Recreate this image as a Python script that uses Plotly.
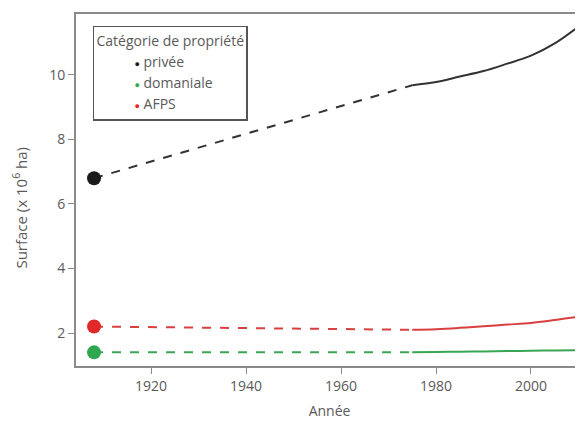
import plotly.graph_objects as go

categories = ["privée", "domaniale", "AFPS"]
colors = {"privée": "#1a1a1a", "domaniale": "#2fa84f", "AFPS": "#e02828"}
line_colors = {"privée": "#333333", "domaniale": "#3aa655", "AFPS": "#d84040"}

# initial point (1908)
start_year = [1908]
start_vals = {"privée": [6.8], "domaniale": [1.4], "AFPS": [2.2]}

# dashed interpolation period
dash_years = [1908, 1975]
dash_vals = {"privée": [6.8, 9.68], "domaniale": [1.4, 1.4], "AFPS": [2.2, 2.1]}

# measured period (solid)
solid_years = [1975, 1980, 1985, 1990, 1995, 2000, 2005, 2010]
solid_vals = {
    "privée": [9.68, 9.78, 9.95, 10.12, 10.35, 10.6, 10.98, 11.5],
    "domaniale": [1.4, 1.41, 1.42, 1.43, 1.44, 1.45, 1.46, 1.47],
    "AFPS": [2.1, 2.12, 2.16, 2.21, 2.26, 2.31, 2.4, 2.5],
}

x_ticks = [1920, 1940, 1960, 1980, 2000]
y_ticks = [2, 4, 6, 8, 10]

fig = go.Figure()
for c in categories:
    fig.add_trace(go.Scatter(x=dash_years, y=dash_vals[c], mode="lines",
                             line=dict(color=line_colors[c], width=2, dash="dash"),
                             showlegend=False, hoverinfo="skip"))
    fig.add_trace(go.Scatter(x=solid_years, y=solid_vals[c], mode="lines",
                             line=dict(color=line_colors[c], width=2),
                             showlegend=False, hoverinfo="skip", line_shape="spline"))
    fig.add_trace(go.Scatter(x=start_year, y=start_vals[c], mode="markers",
                             marker=dict(color=colors[c], size=14),
                             showlegend=False))
    legend_name = (f'<span style="font-size:9px;color:{colors[c]}">●</span> {c}')
    fig.add_trace(go.Scatter(x=[None], y=[None], mode="markers", name=legend_name,
                             marker=dict(color="rgba(0,0,0,0)", size=1)))

axis_color = "#8a8a8a"
text_color = "#5a5a5a"
fig.update_layout(
    width=575, height=422,
    margin=dict(l=68, r=0, t=6, b=64, autoexpand=False),
    plot_bgcolor="white", paper_bgcolor="white",
    font=dict(family="Open Sans", size=14, color=text_color),
    showlegend=True,
    legend=dict(
        title=dict(text="Catégorie de propriété", font=dict(size=14, color=text_color)),
        x=0.0335, y=0.966, xanchor="left", yanchor="top",
        bordercolor="#555555", borderwidth=1.5, bgcolor="white",
        font=dict(size=14, color=text_color),
        tracegroupgap=0, itemwidth=30,
    ),
    xaxis=dict(range=[1904.2, 2010.95], tickvals=x_ticks, showgrid=False, zeroline=False,
               showline=True, linecolor=axis_color, linewidth=2, mirror=True,
               ticks="outside", ticklen=6, tickcolor=axis_color, automargin=False,
               title=dict(text="Année", standoff=12, font=dict(size=14, color=text_color)),
               tickfont=dict(size=14, color=text_color)),
    yaxis=dict(range=[0.977, 11.89], tickvals=y_ticks, showgrid=False, zeroline=False,
               showline=True, linecolor=axis_color, linewidth=2, automargin=False,
               ticks="outside", ticklen=6, tickcolor=axis_color,
               tickfont=dict(size=14, color=text_color)),
    annotations=[dict(text="Surface (x 10<sup>6</sup> ha)", textangle=-90,
                      xref="paper", yref="paper", x=0, y=0.45, xshift=-56,
                      xanchor="center", yanchor="middle", showarrow=False,
                      font=dict(size=15, color=text_color))],
)

fig.write_html("out.html")
